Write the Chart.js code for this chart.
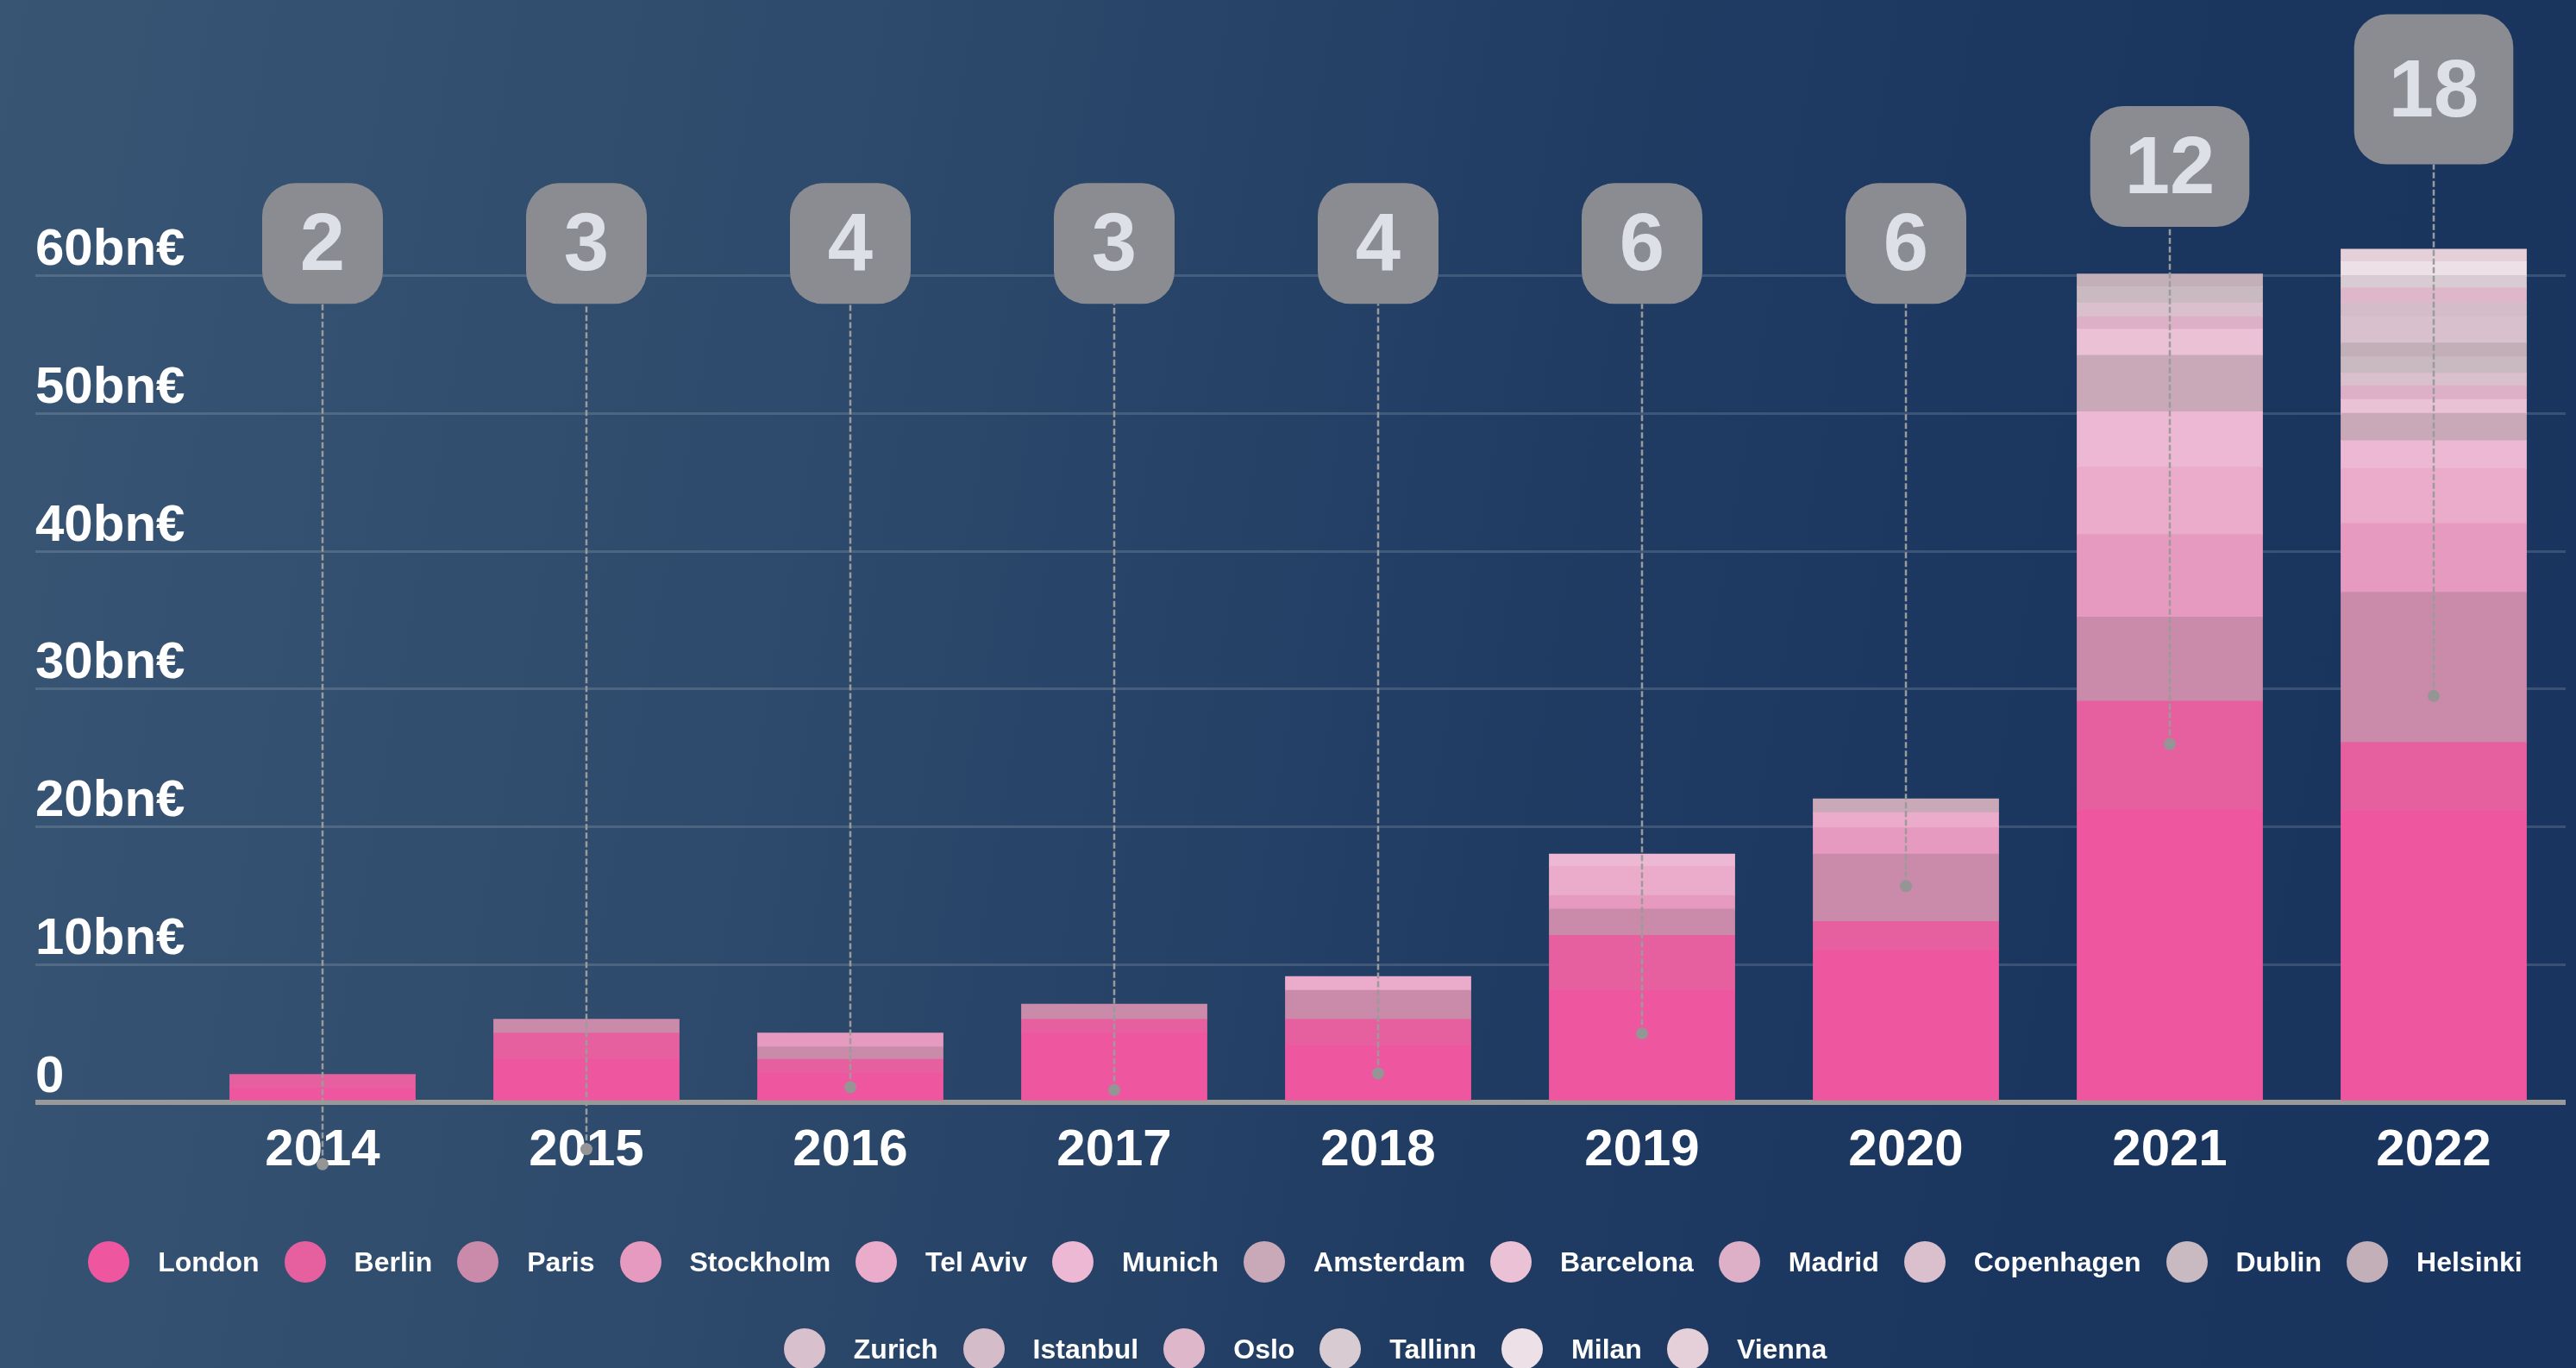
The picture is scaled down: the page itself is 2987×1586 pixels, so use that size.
<!DOCTYPE html>
<html><head><meta charset="utf-8">
<script src="https://cdn.jsdelivr.net/npm/chart.js@4/dist/chart.umd.min.js"></script>
<style>
html,body{margin:0;padding:0;}
body{width:2987px;height:1586px;overflow:hidden;position:relative;
background:linear-gradient(100deg,#385574 0%,#2d4a6c 32%,#203c63 58%,#1a365f 80%,#19355f 100%);
font-family:'Liberation Sans',Arial,sans-serif;}
#c{position:absolute;left:0;top:0;}
#legend{position:absolute;left:0;top:1439px;width:2987px;box-sizing:border-box;padding-left:40px;
display:flex;flex-wrap:wrap;justify-content:center;column-gap:29px;row-gap:53px;}
.item{display:flex;align-items:center;height:48px;}
.dot{width:48px;height:48px;border-radius:50%;margin-right:33px;flex:none;}
.lbl{color:#fff;font-weight:bold;font-size:32px;white-space:nowrap;line-height:48px;}
</style></head><body>
<canvas id="c" width="2987" height="1586"></canvas>
<div id="legend"></div>
<script>
// ---------- DATA ----------
const years = ['2014','2015','2016','2017','2018','2019','2020','2021','2022'];
const cities = ['London','Berlin','Paris','Stockholm','Tel Aviv','Munich','Amsterdam','Barcelona','Madrid',
  'Copenhagen','Dublin','Helsinki','Zurich','Istanbul','Oslo','Tallinn','Milan','Vienna'];
const london     = [1.0, 3.1, 2.1, 5.0, 4.1, 8.1, 11.0, 21.2, 21.1];
const berlin     = [1.0, 1.9, 1.0, 1.0, 1.9, 4.0, 2.1, 7.9, 5.0];
const paris      = [null, 1.0, 0.9, 1.1, 2.1, 1.9, 4.9, 6.1, 10.9];
const stockholm  = [null, null, 1.0, null, null, 1.0, 1.9, 6.0, 5.0];
const telAviv    = [null, null, null, null, 1.0, 2.1, 1.1, 4.9, 4.0];
const munich     = [null, null, null, null, null, 0.9, null, 4.0, 2.0];
const amsterdam  = [null, null, null, null, null, null, 1.0, 4.1, 2.0];
const barcelona  = [null, null, null, null, null, null, null, 1.9, 1.0];
const madrid     = [null, null, null, null, null, null, null, 0.9, 1.0];
const copenhagen = [null, null, null, null, null, null, null, 1.0, 0.9];
const dublin     = [null, null, null, null, null, null, null, 1.2, 1.2];
const helsinki   = [null, null, null, null, null, null, null, 0.9, 1.0];
const zurich     = [null, null, null, null, null, null, null, null, 1.9];
const istanbul   = [null, null, null, null, null, null, null, null, 1.0];
const oslo       = [null, null, null, null, null, null, null, null, 1.1];
const tallinn    = [null, null, null, null, null, null, null, null, 0.9];
const milan      = [null, null, null, null, null, null, null, null, 1.0];
const vienna     = [null, null, null, null, null, null, null, null, 0.9];
const cityCounts   = [2, 3, 4, 3, 4, 6, 6, 12, 18];
const markerValues = [-4.5, -3.4, 1.1, 0.9, 2.1, 5.0, 15.7, 26.0, 29.5];
const yTickSuffix = 'bn€';

const seriesValues = [london, berlin, paris, stockholm, telAviv, munich, amsterdam, barcelona, madrid,
  copenhagen, dublin, helsinki, zurich, istanbul, oslo, tallinn, milan, vienna];
const cityColors = ['#EE57A0','#E6609F','#C98BA9','#E79ABF','#EBABCA','#EDB8D4','#C9A9B8','#EBC1D6','#DDB0C8',
  '#D9C0CC','#C9B9C0','#C2AFB7','#D8C0CC','#D4BCC8','#DFB7CA','#D8CBD1','#EDE0E6','#E5CFD8'];

// ---------- CHART ----------
Chart.defaults.font.family = "'Liberation Sans', Arial, sans-serif";

const barSets = cities.map((name, i) => ({
  type: 'bar', label: name, data: seriesValues[i], backgroundColor: cityColors[i],
  borderWidth: 0, inflateAmount: 0.8, categoryPercentage: 0.7, barPercentage: 1.0, stack: 'cities'
}));
const markerSet = {
  type: 'line', label: 'count', isMarker: true, data: markerValues, showLine: false,
  pointRadius: 7, pointBackgroundColor: '#959595', pointBorderWidth: 0, clip: false, order: -1
};

const BUBBLE_BASE = 62.34, BUBBLE_STEP = 0.933;
function bubbleBox(chart, i, x) {
  const c = cityCounts[i];
  const ctx = chart.ctx;
  ctx.save();
  ctx.font = 'bold 94px "Liberation Sans", Arial, sans-serif';
  const tw = ctx.measureText(String(c)).width;
  ctx.restore();
  const h = 140 + Math.max(0, c - 12) * 5.67;
  const w = Math.max(h, tw + 80);
  const cy = chart.scales.y.getPixelForValue(BUBBLE_BASE + BUBBLE_STEP * Math.max(c - 6, 0));
  return {x: x - w / 2, y: cy - h / 2, w, h, cx: x, cy, bottom: cy + h / 2, text: String(c)};
}

const markerPlugin = {
  id: 'markers',
  beforeDatasetDraw(chart, args) {
    if (!chart.data.datasets[args.index].isMarker) return;
    const ctx = chart.ctx;
    const area = chart.chartArea;
    ctx.save();
    ctx.setLineDash([7, 3]);
    ctx.lineWidth = 2.5;
    ctx.strokeStyle = '#9b9b9b';
    args.meta.data.forEach((pt, i) => {
      const b = bubbleBox(chart, i, pt.x);
      ctx.beginPath();
      ctx.moveTo(pt.x, pt.y);
      ctx.lineTo(pt.x, b.bottom);
      ctx.stroke();
    });
    ctx.setLineDash([]);
    // points that fall below the plot area are skipped by the point element; draw them here
    args.meta.data.forEach(pt => {
      if (pt.y > area.bottom) {
        ctx.fillStyle = '#959595';
        ctx.beginPath();
        ctx.arc(pt.x, pt.y, pt.options.radius, 0, Math.PI * 2);
        ctx.fill();
      }
    });
    ctx.restore();
  },
  afterDraw(chart) {
    const idx = chart.data.datasets.findIndex(d => d.isMarker);
    const meta = chart.getDatasetMeta(idx);
    const ctx = chart.ctx;
    meta.data.forEach((pt, i) => {
      const b = bubbleBox(chart, i, pt.x);
      ctx.save();
      ctx.fillStyle = '#8a8c91';
      ctx.beginPath();
      ctx.roundRect(b.x, b.y, b.w, b.h, 38);
      ctx.fill();
      ctx.fillStyle = '#dde0e6';
      ctx.font = 'bold 94px "Liberation Sans", Arial, sans-serif';
      ctx.textAlign = 'center';
      ctx.textBaseline = 'alphabetic';
      ctx.fillText(b.text, b.cx, b.cy + 31);
      ctx.restore();
    });
  }
};

const gridColor = c => c.tick && c.tick.value === 0 ? '#999999' : 'rgba(255,255,255,0.14)';
const gridWidth = c => c.tick && c.tick.value === 0 ? 6 : 3;

const chart = new Chart(document.getElementById('c'), {
  data: { labels: years, datasets: [...barSets, markerSet] },
  plugins: [markerPlugin],
  options: {
    responsive: false, animation: false, events: [],
    layout: { padding: { left: 41, right: 12, top: 160, bottom: 224 } },
    plugins: { legend: { display: false }, tooltip: { enabled: false } },
    scales: {
      x: {
        stacked: true,
        grid: { display: false, drawTicks: false },
        border: { display: false },
        ticks: { color: '#ffffff', font: { size: 60, weight: 'bold' }, padding: 20 },
        afterFit: s => { s.height = 84; }
      },
      y: {
        stacked: true, min: 0, max: 70,
        border: { display: false },
        grid: { color: gridColor, lineWidth: gridWidth, tickColor: gridColor, tickWidth: gridWidth,
                drawTicks: true, tickLength: 180 },
        ticks: { stepSize: 10, color: '#ffffff', font: { size: 60, weight: 'bold' },
                 crossAlign: 'far', labelOffset: -29, padding: 0,
                 callback: v => v === 0 ? '0' : v + yTickSuffix },
        afterBuildTicks: s => { s.ticks = s.ticks.filter(t => t.value <= 60); },
        afterFit: s => { s.width = 180; }
      }
    }
  }
});

// ---------- HTML LEGEND (from chart datasets) ----------
const legend = document.getElementById('legend');
chart.data.datasets.filter(d => !d.isMarker).forEach(d => {
  const item = document.createElement('div'); item.className = 'item';
  const dot = document.createElement('div'); dot.className = 'dot'; dot.style.background = d.backgroundColor;
  const lbl = document.createElement('span'); lbl.className = 'lbl'; lbl.textContent = d.label;
  item.appendChild(dot); item.appendChild(lbl); legend.appendChild(item);
});
</script>
</body></html>
